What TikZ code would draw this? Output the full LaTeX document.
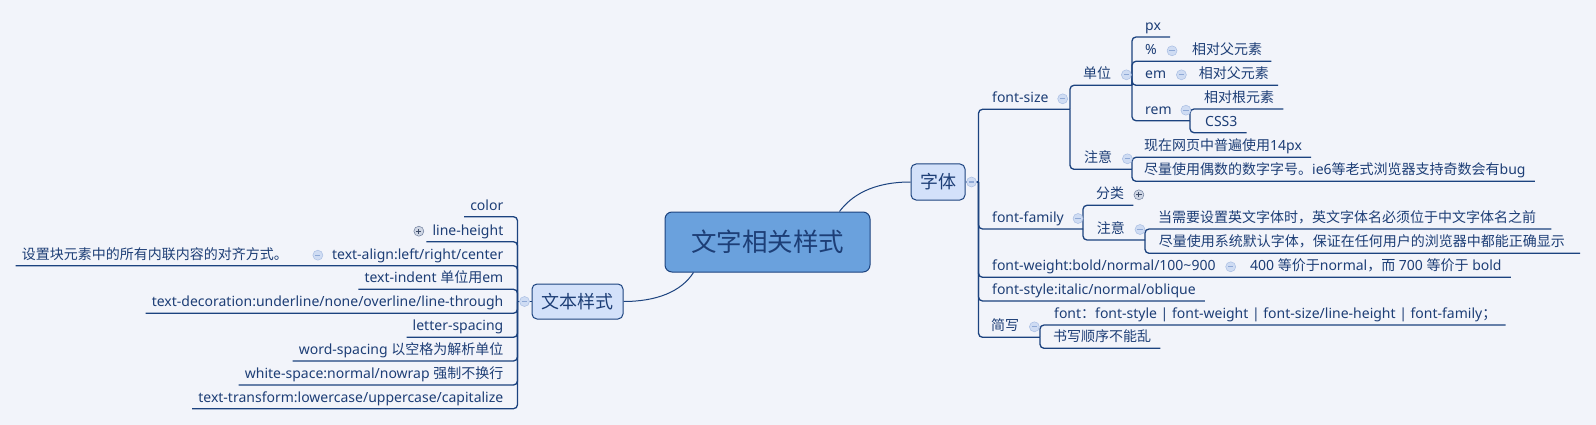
\documentclass[tikz,border=0pt]{standalone}
\usepackage{fontspec}
\setmainfont{Noto Sans}
\newfontfamily\cjk{Noto Sans CJK SC}
\newcommand\zh[1]{{\cjk #1}}
\definecolor{bg}{HTML}{F2F4FA}
\definecolor{ln}{HTML}{1C437F}
\definecolor{txt}{HTML}{1D3E76}
\definecolor{mainf}{HTML}{6AA1DD}
\definecolor{subf}{HTML}{D3E1FA}
\definecolor{icf}{HTML}{CFDCF3}
\definecolor{icb}{HTML}{A9BEE3}
\definecolor{icm}{HTML}{8FA9D6}
\definecolor{icpf}{HTML}{CFD6E4}
\definecolor{icpb}{HTML}{6E7E9C}
\definecolor{icpm}{HTML}{3E4C68}
\begin{document}
\begin{tikzpicture}[x=1pt,y=-1pt,
  lbl/.style={inner sep=0pt, text=txt, font=\fontsize{14}{16}\selectfont},
  rl/.style={lbl, anchor=base west},
  ll/.style={lbl, anchor=base east},
  conn/.style={draw=ln, line width=1.3pt, rounded corners=4pt},
  curve/.style={draw=ln, line width=1pt},
  sub/.style={draw=ln, line width=1pt, fill=subf, rounded corners=5pt, text=txt, inner sep=0pt, font=\cjk\fontsize{18}{18}\selectfont},
  icon/.style={circle, inner sep=0pt, minimum size=10pt, fill=icf, draw=icb, line width=0.5pt},
  minus/.style={icon, path picture={\draw[icm, line width=1.1pt] ([xshift=-2.6pt]path picture bounding box.center) -- ([xshift=2.6pt]path picture bounding box.center);}},
  plus/.style={icon, fill=icpf, draw=icpb, path picture={\draw[icpm, line width=1pt] ([xshift=-2.6pt]path picture bounding box.center) -- ([xshift=2.6pt]path picture bounding box.center) ([yshift=-2.6pt]path picture bounding box.center) -- ([yshift=2.6pt]path picture bounding box.center);}},
  rend/.style={xshift=9pt, yshift=-6.5pt},
  rendl/.style={xshift=15pt, yshift=-6.5pt},
  lend/.style={xshift=-6pt, yshift=-6.5pt}
]
\fill[bg] (0,0) rectangle (1596,425);
\useasboundingbox (0,0) rectangle (1596,425);

% central and main topics
\node[draw=ln, line width=1pt, fill=mainf, rounded corners=7pt, minimum width=205pt, minimum height=60pt, inner sep=0pt, text=txt, font=\cjk\fontsize{25.5}{26}\selectfont] (root) at (767.5,242) {文字相关样式};
\node[sub, minimum width=54pt, minimum height=36pt] (zi) at (938,182) {字体};
\node[sub, minimum width=91pt, minimum height=35pt] (wb) at (577.5,301.5) {文本样式};

\coordinate (rA) at ([xshift=-31pt]root.north east);
\coordinate (rB) at ([xshift=29pt]root.south west);
\draw[curve] (rA) .. controls (851,196) and (872,182) .. (zi.west);
\draw[curve] (rB) .. controls (681,292) and (656,301.5) .. (wb.east);

% ---------- right side: 字体 ----------
\node[rl] (fs) at (992,102.8) {font-size};
\node[rl] (dw) at (1083,78.8) {\zh{单位}};
\node[rl] (px) at (1145,30.5) {px};
\node[rl] (pct) at (1145,54.8) {\%};
\node[rl] (pctc) at (1192,54.8) {\zh{相对父元素}};
\node[rl] (em) at (1145,78.8) {em};
\node[rl] (emc) at (1198.7,78.8) {\zh{相对父元素}};
\node[rl] (rem) at (1145,114.2) {rem};
\node[rl] (remca) at (1204,102.5) {\zh{相对根元素}};
\node[rl] (remcb) at (1205,126.2) {CSS3};
\node[rl] (zya) at (1084,162.8) {\zh{注意}};
\node[rl] (zyaa) at (1144,150.8) {\zh{现在网页中普遍使用}14px};
\node[rl] (zyab) at (1144,174.8) {\zh{尽量使用偶数的数字字号。}ie6\zh{等老式浏览器支持奇数会有}bug};
\node[rl] (ff) at (992,222.5) {font-family};
\node[rl] (fl) at (1096,198.8) {\zh{分类}};
\node[rl] (zyb) at (1096.6,233.5) {\zh{注意}};
\node[rl] (zyba) at (1158,222.5) {\zh{当需要设置英文字体时，英文字体名必须位于中文字体名之前}};
\node[rl] (zybb) at (1158.6,246.8) {\zh{尽量使用系统默认字体，保证在任何用户的浏览器中都能正确显示}};
\node[rl] (fw) at (992,270.8) {font-weight:bold/normal/100\textasciitilde900};
\node[rl] (fwc) at (1250,270.8) {400 \zh{等价于}normal\zh{，而} 700 \zh{等价于} bold};
\node[rl] (fst) at (992,294.5) {font-style:italic/normal/oblique};
\node[rl] (jx) at (991,330.8) {\zh{简写}};
\node[rl] (jxa) at (1054,318.5) {font\zh{：}font-style | font-weight | font-size/line-height | font-family\zh{；}};
\node[rl] (jxb) at (1053,341.8) {\zh{书写顺序不能乱}};

\coordinate (zJ) at ([xshift=13pt]zi.east);
\coordinate (fsJ) at (1070,109.3);
\coordinate (dwJ) at (1132,85.3);
\coordinate (remJ) at (1190,120.7);
\coordinate (zyaJ) at (1132,169.3);
\coordinate (ffJ) at (1083,229);
\coordinate (zybJ) at (1145,240);
\coordinate (jxJ) at (1040,337.3);

\draw[conn] (zi.east) -- (zJ);
\draw[conn] (zJ) |- (fsJ);
\draw[conn] (zJ) |- (ffJ);
\draw[conn] (zJ) |- ([rend]fwc.base east);
\draw[conn] (zJ) |- ([rend]fst.base east);
\draw[conn] (zJ) |- (jxJ);
\draw[conn] (fsJ) |- (dwJ);
\draw[conn] (fsJ) |- (zyaJ);
\draw[conn] (dwJ) |- ([rend]px.base east);
\draw[conn] (dwJ) |- ([rend]pctc.base east);
\draw[conn] (dwJ) |- ([rend]emc.base east);
\draw[conn] (dwJ) |- (remJ);
\draw[conn] (remJ) |- ([rend]remca.base east);
\draw[conn] (remJ) |- ([rend]remcb.base east);
\draw[conn] (zyaJ) |- ([rend]zyaa.base east);
\draw[conn] (zyaJ) |- ([rend]zyab.base east);
\draw[conn] (ffJ) |- ([rend]fl.base east);
\draw[conn] (ffJ) |- (zybJ);
\draw[conn] (zybJ) |- ([rendl]zyba.base east);
\draw[conn] (zybJ) |- ([rendl]zybb.base east);
\draw[conn] (jxJ) |- ([rend]jxa.base east);
\draw[conn] (jxJ) |- ([rend]jxb.base east);

% ---------- left side: 文本样式 ----------
\node[ll] (ca) at (503.5,210.2) {color};
\node[ll] (cb) at (503.5,235.2) {line-height};
\node[ll] (cc) at (503.5,259.2) {text-align:left/right/center};
\node[ll] (ccc) at (288,259.2) {\zh{设置块元素中的所有内联内容的对齐方式。}};
\node[ll] (cd) at (503.5,282.8) {text-indent \zh{单位用}em};
\node[ll] (ce) at (503.5,306.8) {text-decoration:underline/none/overline/line-through};
\node[ll] (cf) at (503.5,330.8) {letter-spacing};
\node[ll] (cg) at (503.5,354.5) {word-spacing \zh{以空格为解析单位}};
\node[ll] (ch) at (503.5,378.5) {white-space:normal/nowrap \zh{强制不换行}};
\node[ll] (ci) at (503.5,402.2) {text-transform:lowercase/uppercase/capitalize};

\coordinate (wJ) at ([xshift=-14pt]wb.west);
\draw[conn] (wb.west) -- (wJ);
\foreach \c in {ca,cb,ccc,cd,ce,cf,cg,ch,ci}
  \draw[conn] (wJ) |- ([lend]\c.base west);

% ---------- collapse / expand icons ----------
\node[minus] (izi) at ([xshift=6pt]zi.east) {};
\node[minus] (iwb) at ([xshift=-7pt]wb.west) {};
\node[minus] (ifs) at ([xshift=14pt,yshift=4pt]fs.base east) {};
\node[minus] (idw) at ([xshift=15pt,yshift=4pt]dw.base east) {};
\node[minus] (ipct) at ([xshift=15pt,yshift=4pt]pct.base east) {};
\node[minus] (iem) at ([xshift=15pt,yshift=4pt]em.base east) {};
\node[minus] (irem) at ([xshift=14pt,yshift=4pt]rem.base east) {};
\node[minus] (izya) at ([xshift=15pt,yshift=4pt]zya.base east) {};
\node[minus] (iff) at ([xshift=14pt,yshift=4pt]ff.base east) {};
\node[plus] (ifl) at ([xshift=14.5pt,yshift=4pt]fl.base east) {};
\node[minus] (izyb) at ([xshift=15pt,yshift=4pt]zyb.base east) {};
\node[minus] (ifw) at ([xshift=15pt,yshift=4pt]fw.base east) {};
\node[minus] (ijx) at ([xshift=15pt,yshift=4pt]jx.base east) {};
\node[plus] (icb) at ([xshift=-13.5pt,yshift=4pt]cb.base west) {};
\node[minus] (icc) at ([xshift=-14pt,yshift=4pt]cc.base west) {};
\end{tikzpicture}
\end{document}
